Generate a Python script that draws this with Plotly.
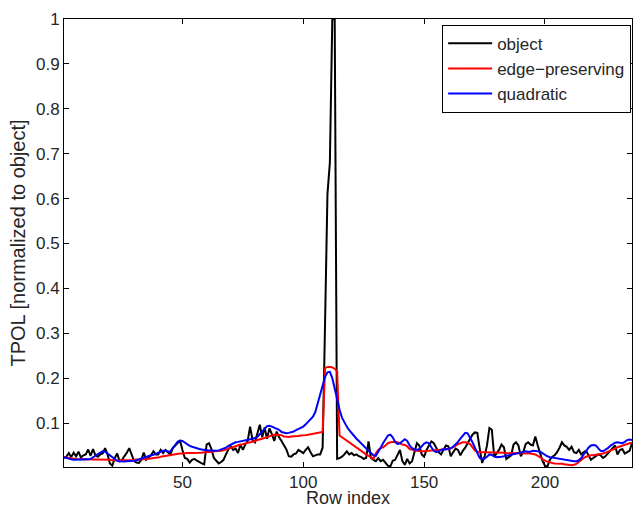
import plotly.graph_objects as go

row_index = list(range(1, 237))

object_vals = [
    0.022, 0.025, 0.033, 0.024, 0.034, 0.026, 0.036, 0.023, 0.028, 0.030,
    0.041, 0.027, 0.042, 0.028, 0.025, 0.030, 0.032, 0.044, 0.030, 0.010,
    0.005, 0.022, 0.032, 0.015, 0.018, 0.025, 0.034, 0.044, 0.030, 0.015,
    0.012, 0.011, 0.018, 0.034, 0.018, 0.022, 0.028, 0.037, 0.030, 0.030,
    0.040, 0.033, 0.040, 0.035, 0.030, 0.044, 0.050, 0.055, 0.061, 0.040,
    0.022, 0.020, 0.012, 0.018, 0.020, 0.016, 0.012, 0.010, 0.008, 0.052,
    0.055, 0.042, 0.022, 0.016, 0.010, 0.013, 0.018, 0.030, 0.041, 0.048,
    0.040, 0.043, 0.033, 0.052, 0.040, 0.052, 0.060, 0.092, 0.062, 0.057,
    0.075, 0.096, 0.068, 0.090, 0.065, 0.088, 0.075, 0.060, 0.081, 0.068,
    0.060, 0.052, 0.041, 0.026, 0.025, 0.030, 0.032, 0.040, 0.037, 0.033,
    0.040, 0.046, 0.035, 0.026, 0.028, 0.030, 0.030, 0.045, 0.320, 0.610,
    0.680, 1.000, 1.000, 0.020, 0.022, 0.025, 0.030, 0.037, 0.030, 0.033,
    0.028, 0.030, 0.026, 0.024, 0.020, 0.022, 0.059, 0.022, 0.018, 0.015,
    0.022, 0.015, 0.018, 0.012, 0.005, 0.003, 0.016, 0.018, 0.030, 0.040,
    0.015, 0.007, 0.020, 0.010, 0.015, 0.035, 0.055, 0.050, 0.030, 0.025,
    0.040, 0.050, 0.059, 0.055, 0.045, 0.035, 0.030, 0.040, 0.050, 0.048,
    0.026, 0.035, 0.043, 0.040, 0.028, 0.038, 0.045, 0.055, 0.066, 0.074,
    0.079, 0.078, 0.043, 0.011, 0.025, 0.050, 0.089, 0.085, 0.025, 0.032,
    0.040, 0.052, 0.046, 0.020, 0.025, 0.028, 0.052, 0.057, 0.050, 0.026,
    0.035, 0.053, 0.057, 0.052, 0.050, 0.070, 0.050, 0.035, 0.015, 0.005,
    0.003, 0.018, 0.025, 0.028, 0.035, 0.045, 0.057, 0.050, 0.047, 0.040,
    0.047, 0.035, 0.033, 0.040, 0.030, 0.035, 0.038, 0.028, 0.018, 0.022,
    0.026, 0.030, 0.028, 0.022, 0.026, 0.032, 0.040, 0.046, 0.050, 0.030,
    0.040, 0.042, 0.032, 0.035, 0.038, 0.055,
]

edge_preserving_vals = [
    0.024, 0.023, 0.022, 0.021, 0.020, 0.020, 0.019, 0.019, 0.019, 0.018,
    0.018, 0.018, 0.018, 0.018, 0.018, 0.018, 0.018, 0.018, 0.018, 0.018,
    0.017, 0.017, 0.016, 0.016, 0.016, 0.016, 0.017, 0.017, 0.017, 0.018,
    0.018, 0.018, 0.019, 0.019, 0.020, 0.020, 0.021, 0.022, 0.022, 0.023,
    0.025, 0.026, 0.027, 0.028, 0.029, 0.030, 0.031, 0.031, 0.032, 0.032,
    0.033, 0.033, 0.033, 0.033, 0.034, 0.034, 0.034, 0.034, 0.035, 0.035,
    0.036, 0.036, 0.037, 0.037, 0.037, 0.038, 0.039, 0.041, 0.043, 0.045,
    0.047, 0.048, 0.050, 0.052, 0.053, 0.055, 0.056, 0.057, 0.058, 0.060,
    0.062, 0.063, 0.065, 0.067, 0.069, 0.071, 0.073, 0.074, 0.074, 0.074,
    0.073, 0.070, 0.069, 0.069, 0.070, 0.070, 0.071, 0.071, 0.072, 0.072,
    0.073, 0.074, 0.075, 0.076, 0.077, 0.078, 0.079, 0.080, 0.222, 0.225,
    0.225, 0.224, 0.221, 0.215, 0.072, 0.068, 0.064, 0.060, 0.056, 0.052,
    0.049, 0.045, 0.042, 0.038, 0.034, 0.030, 0.027, 0.023, 0.020, 0.032,
    0.040, 0.044, 0.046, 0.050, 0.055, 0.057, 0.058, 0.058, 0.057, 0.054,
    0.052, 0.051, 0.048, 0.042, 0.040, 0.039, 0.038, 0.037, 0.037, 0.037,
    0.037, 0.038, 0.039, 0.040, 0.040, 0.040, 0.041, 0.041, 0.042, 0.042,
    0.043, 0.046, 0.050, 0.053, 0.055, 0.057, 0.057, 0.056, 0.053, 0.046,
    0.039, 0.036, 0.035, 0.035, 0.035, 0.035, 0.035, 0.035, 0.035, 0.035,
    0.034, 0.034, 0.034, 0.033, 0.033, 0.033, 0.033, 0.032, 0.032, 0.032,
    0.032, 0.032, 0.032, 0.032, 0.031, 0.030, 0.027, 0.023, 0.019, 0.016,
    0.014, 0.012, 0.011, 0.010, 0.010, 0.009, 0.009, 0.008, 0.007, 0.006,
    0.006, 0.007, 0.009, 0.013, 0.018, 0.022, 0.025, 0.027, 0.028, 0.028,
    0.029, 0.029, 0.030, 0.032, 0.034, 0.036, 0.038, 0.040, 0.043, 0.046,
    0.048, 0.050, 0.052, 0.054, 0.055, 0.056,
]

quadratic_vals = [
    0.024, 0.022, 0.020, 0.019, 0.018, 0.018, 0.018, 0.018, 0.018, 0.018,
    0.019, 0.020, 0.023, 0.027, 0.031, 0.035, 0.037, 0.036, 0.032, 0.027,
    0.022, 0.019, 0.016, 0.015, 0.014, 0.014, 0.015, 0.015, 0.015, 0.016,
    0.017, 0.019, 0.021, 0.023, 0.025, 0.027, 0.028, 0.029, 0.031, 0.033,
    0.036, 0.038, 0.038, 0.036, 0.037, 0.043, 0.051, 0.058, 0.061, 0.060,
    0.056, 0.052, 0.049, 0.047, 0.045, 0.043, 0.042, 0.041, 0.040, 0.040,
    0.039, 0.039, 0.038, 0.038, 0.039, 0.041, 0.043, 0.045, 0.049, 0.052,
    0.055, 0.057, 0.058, 0.059, 0.060, 0.061, 0.062, 0.063, 0.065, 0.067,
    0.069, 0.075, 0.080, 0.087, 0.093, 0.094, 0.092, 0.090, 0.088, 0.085,
    0.080, 0.078, 0.077, 0.078, 0.079, 0.081, 0.084, 0.087, 0.089, 0.092,
    0.097, 0.103, 0.108, 0.114, 0.125, 0.145, 0.165, 0.185, 0.203, 0.213,
    0.214, 0.200, 0.175, 0.150, 0.130, 0.112, 0.100, 0.092, 0.084, 0.077,
    0.071, 0.065, 0.060, 0.054, 0.048, 0.043, 0.038, 0.033, 0.028, 0.027,
    0.035, 0.045, 0.055, 0.065, 0.072, 0.074, 0.068, 0.058, 0.053, 0.055,
    0.060, 0.064, 0.060, 0.050, 0.044, 0.041, 0.040, 0.042, 0.048, 0.054,
    0.057, 0.055, 0.046, 0.038, 0.035, 0.037, 0.040, 0.042, 0.041, 0.042,
    0.044, 0.047, 0.052, 0.058, 0.065, 0.072, 0.078, 0.077, 0.068, 0.057,
    0.045, 0.032, 0.022, 0.020, 0.021, 0.025, 0.030, 0.029, 0.025, 0.024,
    0.024, 0.025, 0.026, 0.027, 0.028, 0.029, 0.030, 0.031, 0.032, 0.034,
    0.036, 0.037, 0.036, 0.036, 0.038, 0.038, 0.037, 0.036, 0.032, 0.029,
    0.026, 0.024, 0.023, 0.022, 0.022, 0.021, 0.019, 0.018, 0.017, 0.016,
    0.016, 0.015, 0.015, 0.017, 0.022, 0.030, 0.038, 0.045, 0.050, 0.051,
    0.050, 0.045, 0.038, 0.037, 0.040, 0.044, 0.049, 0.053, 0.056, 0.057,
    0.056, 0.055, 0.058, 0.062, 0.063, 0.062,
]

series_names = ["object", "edge\u2212preserving", "quadratic"]
series_colors = ["#000000", "#ff0000", "#0000ff"]
x_ticks = [50, 100, 150, 200]
y_ticks = [0.1, 0.2, 0.3, 0.4, 0.5, 0.6, 0.7, 0.8, 0.9, 1]
y_tick_text = ["0.1", "0.2", "0.3", "0.4", "0.5", "0.6", "0.7", "0.8", "0.9", "1"]
x_title = "Row index"
y_title = "TPOL [normalized to object]"

fig = go.Figure()
for name, vals, color in zip(series_names,
                             [object_vals, edge_preserving_vals, quadratic_vals],
                             series_colors):
    fig.add_trace(go.Scatter(x=row_index, y=vals, mode="lines", name=name,
                             line=dict(color=color, width=2)))

font_family = "Liberation Sans, Arial, Helvetica, sans-serif"
fig.update_layout(
    width=633, height=508,
    margin=dict(l=64, r=1, t=19, b=41),
    paper_bgcolor="white", plot_bgcolor="white",
    font=dict(family=font_family, size=17, color="#262626"),
    showlegend=True,
    legend=dict(x=0.9985, y=0.987, xanchor="right", yanchor="top",
                bgcolor="white", bordercolor="black", borderwidth=1,
                font=dict(size=17, color="#262626"),
                tracegroupgap=0, itemwidth=44),
    annotations=[dict(text=x_title, x=0.5, xref="paper", y=0, yref="paper",
                      yshift=-31, xanchor="center", yanchor="middle",
                      showarrow=False,
                      font=dict(family=font_family, size=18, color="#262626"))],
)
fig.update_xaxes(range=[1, 236], tickvals=x_ticks, ticks="inside", ticklen=5,
                 tickcolor="black", showline=True, linecolor="black", linewidth=1,
                 mirror="ticks", showgrid=False, zeroline=False)
fig.update_yaxes(range=[0.002, 1.0], tickvals=y_ticks, ticktext=y_tick_text,
                 ticks="inside", ticklen=5, tickcolor="black", showline=True,
                 linecolor="black", linewidth=1, mirror="ticks", showgrid=False,
                 zeroline=False,
                 title=dict(text=y_title, standoff=4))

fig.write_html(
    "out.html",
    config={"displayModeBar": False},
    post_script="document.body.style.margin='0';document.body.style.padding='0';"
                "document.body.style.overflow='hidden';",
)
